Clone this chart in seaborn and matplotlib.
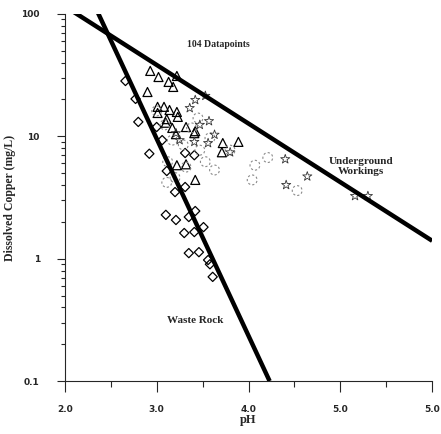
import numpy as np
import pandas as pd
import matplotlib
matplotlib.use("Agg")
import matplotlib.pyplot as plt
import matplotlib.ticker as mticker
import seaborn as sns

# ── data (pH, dissolved Cu in mg/L) ─────────────────────────────────────────
waste_ph = [2.66, 2.77, 2.80, 3.00, 3.06, 2.92, 3.31, 3.41, 3.11, 3.20, 3.31, 3.10,
            3.21, 3.35, 3.42, 3.30, 3.41, 3.51, 3.35, 3.46, 3.56, 3.58, 3.61]
waste_cu = [28.3, 20.2, 13.1, 11.9, 9.3, 7.2, 7.3, 7.0, 5.2, 3.5, 3.85, 2.28,
            2.07, 2.19, 2.45, 1.62, 1.65, 1.81, 1.11, 1.13, 0.975, 0.90, 0.71]

tri_ph = [2.93, 3.02, 3.13, 3.22, 3.18, 2.90, 3.01, 3.08, 3.14, 3.22, 3.01, 3.11, 3.23,
          3.10, 3.17, 3.32, 3.42, 3.21, 3.41, 3.72, 3.89, 3.71, 3.22, 3.32, 3.42]
tri_cu = [34.2, 30.5, 27.8, 31.1, 25.3, 23.0, 17.4, 17.4, 16.4, 15.8, 15.5, 13.8, 14.4,
          12.9, 11.7, 11.9, 11.0, 10.4, 10.6, 8.8, 9.0, 7.4, 5.8, 5.9, 4.4]

circ_ph = [3.00, 3.09, 3.17, 3.29, 3.38, 3.47, 3.58, 3.12, 3.32, 3.53, 3.11, 3.20,
           3.63, 4.07, 4.21, 4.04, 4.53, 3.80, 3.45]
circ_cu = [16.1, 12.4, 9.3, 8.5, 11.7, 7.7, 9.7, 6.2, 5.6, 6.2, 4.2, 4.6,
           5.3, 5.8, 6.7, 4.4, 3.6, 7.7, 14.1]

star_ph = [3.42, 3.53, 3.36, 3.57, 3.21, 3.41, 3.56, 3.80, 4.40, 4.64, 4.41, 5.16,
           5.30, 3.63, 3.47, 3.25]
star_cu = [19.8, 21.4, 17.0, 13.3, 10.6, 9.0, 8.8, 7.4, 6.5, 4.7, 4.0, 3.25,
           3.25, 10.3, 12.4, 9.3]

# fitted trend lines: log10(Cu) = a + b * pH
ug_fit = (3.02, -0.479)     # Underground Workings
ug_range = (2.08, 6.0)
wr_fit = (5.81, -1.61)      # Waste Rock
wr_range = (2.35, 4.23)

x_ticks = [2, 3, 4, 5, 6]
x_labels = ["2.0", "3.0", "4.0", "5.0", "5.0"]
y_ticks = [0.1, 1, 10, 100]
y_labels = ["0.1", "1", "10", "100"]

# ── figure ──────────────────────────────────────────────────────────────────
sns.set_theme(style="ticks")
plt.rcParams["font.family"] = ["DejaVu Sans"]

fig = plt.figure(figsize=(4.41, 4.34), dpi=100)
ax = fig.add_axes([0.147, 0.122, 0.833, 0.846])

groups = [
    (waste_ph, waste_cu, "D", 22, "black", "-", 0.9),
    (tri_ph, tri_cu, "^", 42, "black", "-", 0.9),
    (circ_ph, circ_cu, "o", 50, "#8a8a8a", (0, (2, 2)), 0.8),
    (star_ph, star_cu, "*", 48, "#333333", "-", 0.6),
]
for xs, ys, mk, sz, ec, ls, lw in groups:
    d = pd.DataFrame({"pH": xs, "Cu": ys})
    sns.scatterplot(data=d, x="pH", y="Cu", marker=mk, s=sz, facecolors="none",
                    edgecolor=ec, linewidth=lw, linestyle=ls, ax=ax, zorder=2)

for (a, b), (x0, x1) in [(ug_fit, ug_range), (wr_fit, wr_range)]:
    xx = np.array([x0, x1])
    sns.lineplot(x=xx, y=10 ** (a + b * xx), color="black", linewidth=3.2,
                 ax=ax, zorder=3, solid_capstyle="butt")

ax.set_yscale("log")
ax.set_xlim(2, 6)
ax.set_ylim(0.1, 100)

ax.set_xticks(x_ticks)
ax.set_xticklabels(x_labels)
ax.xaxis.set_minor_locator(mticker.FixedLocator([2.5, 3.5, 4.5, 5.5]))
ax.set_yticks(y_ticks)
ax.set_yticklabels(y_labels)
ax.yaxis.set_minor_locator(mticker.LogLocator(base=10, subs=np.arange(2, 10)))
ax.yaxis.set_minor_formatter(mticker.NullFormatter())

ax.tick_params(axis="x", which="major", direction="out", length=8, width=0.8, pad=9,
               labelsize=6.5)
ax.tick_params(axis="x", which="minor", direction="out", length=4, width=0.8)
ax.tick_params(axis="y", which="major", direction="out", length=6, width=0.8, pad=12,
               labelsize=6.5)
ax.tick_params(axis="y", which="minor", direction="out", length=3, width=0.8)
for lab in ax.get_xticklabels() + ax.get_yticklabels():
    lab.set_fontweight("bold")

sns.despine(ax=ax)
for sp in ("left", "bottom"):
    ax.spines[sp].set_linewidth(0.8)

serif = dict(family=["Liberation Serif", "DejaVu Serif"], fontweight="bold")
ax.set_xlabel("pH", fontsize=9, labelpad=0, **serif)
ax.set_ylabel("Dissolved Copper (mg/L)", fontsize=8.5, labelpad=4, **serif)

ax.text(3.67, 55.8, "104 Datapoints", ha="center", va="center", fontsize=7, **serif)
ax.text(5.22, 5.7, "Underground\nWorkings", ha="center", va="center", fontsize=8,
        linespacing=1.1, **serif)
ax.text(3.42, 0.315, "Waste Rock", ha="center", va="center", fontsize=8, **serif)

fig.savefig("out.png", dpi=100)
